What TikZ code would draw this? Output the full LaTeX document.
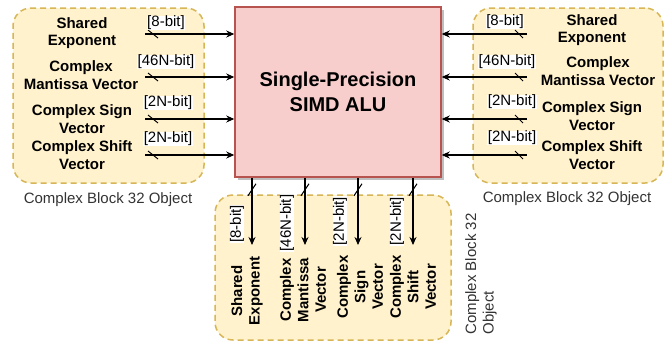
\documentclass[tikz,border=0pt]{standalone}
\usepackage{fontspec}
\setmainfont{Liberation Sans}
\usetikzlibrary{arrows.meta,shadows}
\definecolor{contfill}{HTML}{FFF2CC}
\definecolor{contdraw}{HTML}{D6B656}
\definecolor{alufill}{HTML}{F8CECC}
\definecolor{aludraw}{HTML}{B85450}
\definecolor{capcol}{HTML}{333333}
\begin{document}
\begin{tikzpicture}[x=1pt,y=-1pt,
  container/.style={draw=contdraw, fill=contfill, line width=1.5pt, dash pattern=on 6pt off 4pt, rounded corners=18pt, inner sep=0pt},
  alubox/.style={draw=aludraw, fill=alufill, line width=1.5pt, minimum width=206pt, minimum height=170pt, inner sep=0pt,
     drop shadow={shadow xshift=3pt, shadow yshift=-3pt, fill=black, opacity=0.25},
     font=\fontsize{20}{25}\selectfont\bfseries, align=center},
  fieldtxt/.style={font=\fontsize{15}{17.5}\selectfont\bfseries, align=center, inner sep=0pt},
  bitlbl/.style={font=\fontsize{15}{17}\selectfont, fill=white, inner sep=0.5pt},
  captxt/.style={font=\fontsize{15}{17.5}\selectfont, text=capcol, align=left, inner sep=0pt},
  bus/.style={line width=1.1pt, -{Stealth[length=8pt,width=7pt]}},
  tickmark/.style={line width=1pt}
]
\useasboundingbox (0,0) rectangle (668,341);

% containers
\node[container, minimum width=191pt, minimum height=175pt] (lc) at (108.5,95.5) {};
\node[container, minimum width=190pt, minimum height=175pt] (rc) at (568,95.5) {};
\node[container, minimum width=236pt, minimum height=145pt] (bc) at (333,267.5) {};

% ALU
\node[alubox] (alu) at (338,92) {Single-Precision\\SIMD ALU};

% left field texts
\node[fieldtxt] (lse) at (82,33) {Shared\\Exponent};
\node[fieldtxt] (lcm) at (81,75) {Complex\\Mantissa Vector};
\node[fieldtxt] (lcs) at (82,119) {Complex Sign\\Vector};
\node[fieldtxt] (lch) at (82,155) {Complex Shift\\Vector};

% right field texts
\node[fieldtxt] (rse) at (592,30) {Shared\\Exponent};
\node[fieldtxt] (rcm) at (598,71) {Complex\\Mantissa Vector};
\node[fieldtxt] (rcs) at (592,116) {Complex Sign\\Vector};
\node[fieldtxt] (rch) at (592,155) {Complex Shift\\Vector};

% bottom field texts
\node[fieldtxt, rotate=90] (bse) at (247,291) {Shared\\Exponent};
\node[fieldtxt, rotate=90] (bcm) at (303,290) {Complex\\Mantissa\\Vector};
\node[fieldtxt, rotate=90] (bcs) at (360,287) {Complex\\Sign\\Vector};
\node[fieldtxt, rotate=90] (bch) at (413,287) {Complex\\Shift\\Vector};

% arrow anchor points
\coordinate (la1) at (145,34);
\coordinate (la2) at (145,77);
\coordinate (la3) at (145,119);
\coordinate (la4) at (145,155);
\coordinate (ra1) at (527,34);
\coordinate (ra2) at (527,77);
\coordinate (ra3) at (527,119);
\coordinate (ra4) at (527,155);
\coordinate (ba1) at (252,245);
\coordinate (ba2) at (305,245);
\coordinate (ba3) at (358,245);
\coordinate (ba4) at (413,245);

% left buses
\foreach \c in {la1,la2,la3,la4}{
  \draw[bus] (\c) -- (\c -| alu.west);
  \draw[tickmark] (\c) ++(3,-4) -- ++(10,8);
}
% right buses
\foreach \c in {ra1,ra2,ra3,ra4}{
  \draw[bus] (\c) -- (\c -| alu.east);
  \draw[tickmark] (\c) ++(-12,-4) -- ++(8,8);
}
% bottom buses
\foreach \c in {ba1,ba2,ba3,ba4}{
  \draw[bus] (\c |- alu.south) -- (\c);
  \draw[tickmark] (\c |- alu.south) ++(-4,18) -- ++(8,-12);
}

% bit labels
\node[bitlbl] (ll1) at (166,23) {[8-bit]};
\node[bitlbl] (ll2) at (166,62) {[46N-bit]};
\node[bitlbl] (ll3) at (168,103) {[2N-bit]};
\node[bitlbl] (ll4) at (168,139) {[2N-bit]};
\node[bitlbl] (rl1) at (505,22) {[8-bit]};
\node[bitlbl] (rl2) at (507,62) {[46N-bit]};
\node[bitlbl] (rl3) at (512,102) {[2N-bit]};
\node[bitlbl] (rl4) at (512,138) {[2N-bit]};
\node[bitlbl, rotate=90] (bl1) at (237,224) {[8-bit]};
\node[bitlbl, rotate=90] (bl2) at (287,223) {[46N-bit]};
\node[bitlbl, rotate=90] (bl3) at (340,221) {[2N-bit]};
\node[bitlbl, rotate=90] (bl4) at (397,221) {[2N-bit]};

% captions
\node[captxt] (lcap) at (108,200) {Complex Block 32 Object};
\node[captxt] (rcap) at (567,199) {Complex Block 32 Object};
\node[captxt, rotate=90] (bcap) at (481,274) {Complex Block 32\\Object};
\end{tikzpicture}
\end{document}
